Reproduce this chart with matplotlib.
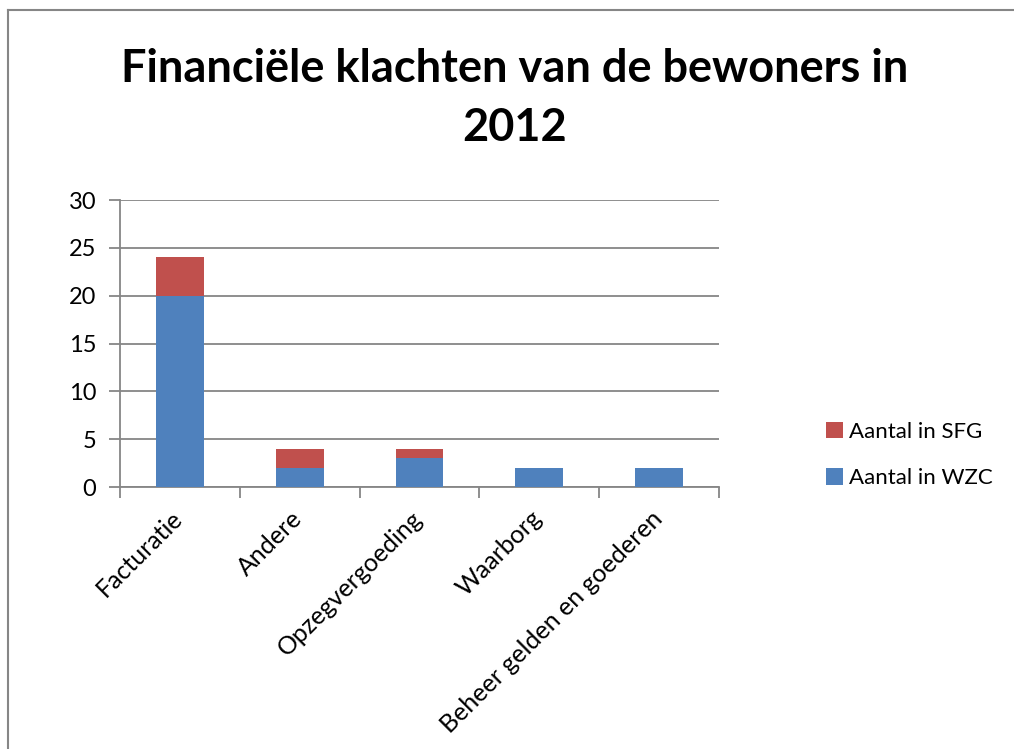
import numpy as np
import matplotlib
matplotlib.use("Agg")
import matplotlib.pyplot as plt
import matplotlib.transforms as mtransforms
from matplotlib.lines import Line2D

plt.rcParams["font.family"] = ["Lato", "DejaVu Sans"]

categories = ["Facturatie", "Andere", "Opzegvergoeding", "Waarborg",
              "Beheer gelden en goederen"]
wzc = [20, 2, 3, 2, 2]
sfg = [4, 2, 1, 0, 0]

blue = "#4F81BD"
red = "#C0504D"
grey = "#868686"

fig = plt.figure(figsize=(10.14, 7.49), dpi=100)
ax = fig.add_axes([120 / 1014, 1 - 487 / 749, 599 / 1014, 287 / 749])

x = np.arange(len(categories))
ax.bar(x, wzc, width=0.4, color=blue, label="Aantal in WZC", zorder=3)
ax.bar(x, sfg, width=0.4, bottom=wzc, color=red, label="Aantal in SFG",
       zorder=3)

ax.set_xlim(-0.5, len(categories) - 0.5)
ax.set_ylim(0, 30)
ax.set_yticks(range(0, 31, 5))
ax.yaxis.grid(True, color=grey, linewidth=1.3, zorder=0)
ax.tick_params(axis="y", length=8, width=1.3, color=grey, labelsize=17,
               pad=9)

# category boundaries carry the tick marks, labels sit at bar centres
ax.set_xticks(np.arange(-0.5, len(categories)), labels=[])
ax.set_xticks(x, labels=categories, minor=True)
ax.tick_params(axis="x", which="major", length=8, width=1.3, color=grey)
ax.tick_params(axis="x", which="minor", length=0, labelsize=18, pad=14)
nudge = mtransforms.ScaledTranslation(-0.09, 0, fig.dpi_scale_trans)
for lbl in ax.get_xticklabels(minor=True):
    lbl.set_rotation(45)
    lbl.set_ha("right")
    lbl.set_va("top")
    lbl.set_rotation_mode("anchor")
    lbl.set_transform(lbl.get_transform() + nudge)

for side in ["top", "right"]:
    ax.spines[side].set_visible(False)
for side in ["left", "bottom"]:
    ax.spines[side].set_color(grey)
    ax.spines[side].set_linewidth(1.3)

fig.text(0.508, 1 - 82 / 749, "Financiële klachten van de bewoners in",
         ha="center", va="baseline", fontsize=32.5, fontweight="bold")
fig.text(0.508, 1 - 141 / 749, "2012", ha="center", va="baseline",
         fontsize=32.5, fontweight="bold")

handles, labels = ax.get_legend_handles_labels()
fig.legend(handles[::-1], labels[::-1], loc="center left",
           bbox_to_anchor=(826 / 1014, 1 - 455 / 749), frameon=False,
           borderpad=0, borderaxespad=0,
           fontsize=16, handlelength=0.75, handleheight=0.75,
           handletextpad=0.3, labelspacing=1.2)

# outer chart frame
fig.add_artist(Line2D([8 / 1014, 8 / 1014], [0, 1 - 10 / 749],
                      transform=fig.transFigure, color=grey, linewidth=1.5))
fig.add_artist(Line2D([8 / 1014, 1], [1 - 10 / 749, 1 - 10 / 749],
                      transform=fig.transFigure, color=grey, linewidth=1.5))

fig.savefig("out.png", dpi=100)
